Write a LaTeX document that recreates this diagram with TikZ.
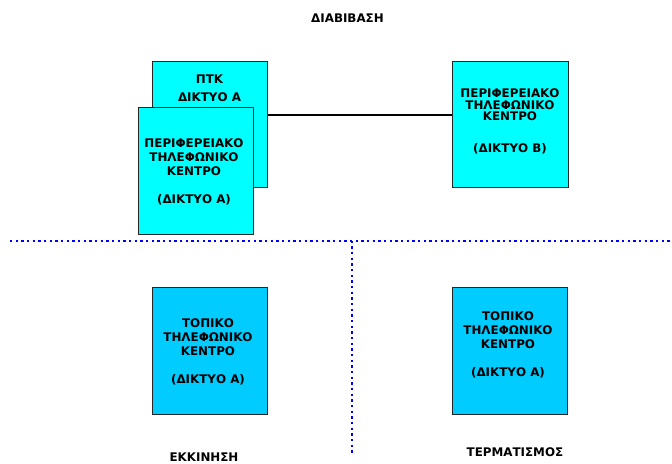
\documentclass[tikz,border=0pt]{standalone}
\usepackage{fontspec}
\setmainfont{DejaVu Sans}
\newfontfamily\vbold{DejaVu Sans Bold}
\definecolor{topcyan}{RGB}{0,255,255}
\definecolor{lowblue}{RGB}{0,204,255}
\definecolor{dotblue}{RGB}{0,0,255}
\begin{document}
\begin{tikzpicture}[x=0.75pt,y=-0.75pt,
  box/.style={draw=black!85,line width=0.8pt,inner sep=0pt,anchor=north west},
  lbl/.style={font=\vbold\fontsize{8.9}{10.5}\selectfont,align=center,inner sep=0pt,text=black},
  dotline/.style={draw=dotblue,line width=1.75pt,dash pattern=on 1.7pt off 2.55pt},
  link/.style={draw=black,line width=1.6pt}]
\useasboundingbox (0,0) rectangle (672,464);
% boxes
\node[box,fill=topcyan,minimum width=115*0.75pt,minimum height=126*0.75pt] (ptk) at (152,60.5) {};
\node[box,fill=topcyan,minimum width=115.5*0.75pt,minimum height=127.5*0.75pt] (pka) at (137.5,106.5) {};
\node[box,fill=topcyan,minimum width=115.5*0.75pt,minimum height=126*0.75pt] (pkb) at (452.3,60.5) {};
\node[box,fill=lowblue,minimum width=114.5*0.75pt,minimum height=127*0.75pt] (tka) at (152.3,287.3) {};
\node[box,fill=lowblue,minimum width=114.5*0.75pt,minimum height=127*0.75pt] (tkb) at (452.3,287.3) {};
% texts
\node[lbl] (ptkt) at (209.5,88.5) {ΠΤΚ\\[3pt]ΔΙΚΤΥΟ Α};
\node[lbl] (pkat) at (194,172) {ΠΕΡΙΦΕΡΕΙΑΚΟ\\ΤΗΛΕΦΩΝΙΚΟ\\ΚΕΝΤΡΟ\\[10.5pt](ΔΙΚΤΥΟ Α)};
\node[lbl,font=\vbold\fontsize{8.9}{8.8}\selectfont] (pkbt) at (510,121.5) {ΠΕΡΙΦΕΡΕΙΑΚΟ\\ΤΗΛΕΦΩΝΙΚΟ\\ΚΕΝΤΡΟ\\[15pt](ΔΙΚΤΥΟ Β)};
\node[lbl] (tkat) at (208,352) {ΤΟΠΙΚΟ\\ΤΗΛΕΦΩΝΙΚΟ\\ΚΕΝΤΡΟ\\[10.5pt](ΔΙΚΤΥΟ Α)};
\node[lbl] (tkbt) at (508,345) {ΤΟΠΙΚΟ\\ΤΗΛΕΦΩΝΙΚΟ\\ΚΕΝΤΡΟ\\[10.5pt](ΔΙΚΤΥΟ Α)};
\node[lbl] (diab) at (347.5,18) {ΔΙΑΒΙΒΑΣΗ};
\node[lbl] (ekk) at (204,457.5) {ΕΚΚΙΝΗΣΗ};
\node[lbl] (term) at (515,452.5) {ΤΕΡΜΑΤΙΣΜΟΣ};
% connector
\draw[link] ([yshift=6.5pt]ptk.east) -- ([yshift=6.5pt]pkb.west);
% dotted separators
\coordinate (hl) at (10,240.7);
\coordinate (hr) at (672,240.7);
\coordinate (vt) at (352.3,240.7);
\coordinate (vb) at (352.3,454);
\draw[dotline] (hl) -- (hr);
\draw[dotline] (vt) -- (vb);
\end{tikzpicture}
\end{document}
